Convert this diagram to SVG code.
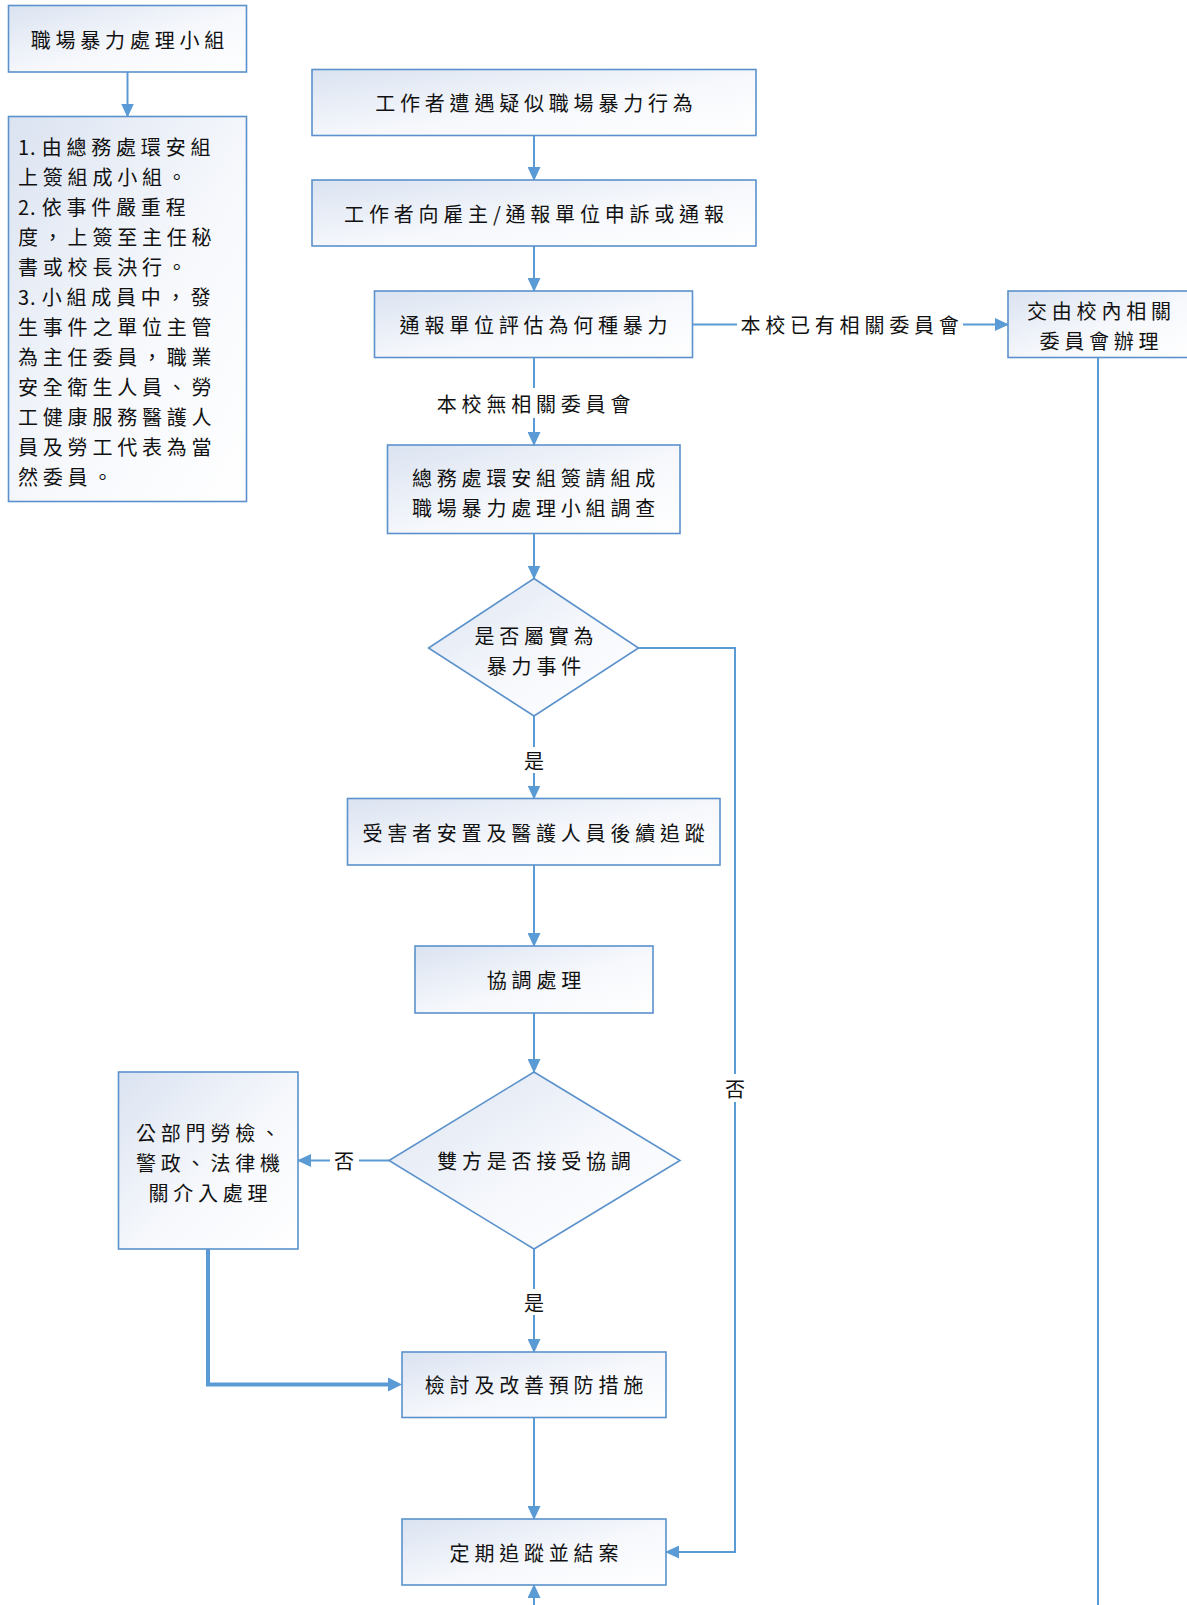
<svg xmlns="http://www.w3.org/2000/svg" width="1187" height="1605" viewBox="0 0 1187 1605">
<defs>
<linearGradient id="g" x1="0" y1="0" x2="1" y2="1">
<stop offset="0" stop-color="#dbe3f1"/>
<stop offset="0.55" stop-color="#f6f8fc"/>
<stop offset="1" stop-color="#ffffff"/>
</linearGradient>
<marker id="ah" viewBox="0 0 14 13" refX="13" refY="6.5" markerWidth="14" markerHeight="13" markerUnits="userSpaceOnUse" orient="auto">
<path d="M0,0 L14,6.5 L0,13 Z" fill="#5b9bd5"/>
</marker>
</defs>
<style>
.box{fill:url(#g);stroke:#5b92cc;stroke-width:1.6}
.t{font-family:"Noto Sans CJK TC","Noto Sans CJK SC",sans-serif;font-size:20px;letter-spacing:4.8px;fill:#111;dominant-baseline:central}
.m{text-anchor:middle}
.c{fill:none;stroke:#5b9bd5;stroke-width:2}
.thick{fill:none;stroke:#5b9bd5;stroke-width:4}
.lb{fill:#fff}
</style>
<g id="connectors">
<path class="c" d="M127.5,72 V116.5" marker-end="url(#ah)"/>
<path class="c" d="M534,135.5 V180" marker-end="url(#ah)"/>
<path class="c" d="M534,246 V291" marker-end="url(#ah)"/>
<path class="c" d="M534,357.5 V445" marker-end="url(#ah)"/>
<path class="c" d="M692.5,324.5 H1008" marker-end="url(#ah)"/>
<path class="c" d="M534,533.5 V578.5" marker-end="url(#ah)"/>
<path class="c" d="M534,716 V798.5" marker-end="url(#ah)"/>
<path class="c" d="M534,865 V946" marker-end="url(#ah)"/>
<path class="c" d="M534,1013 V1072" marker-end="url(#ah)"/>
<path class="c" d="M534,1249 V1352" marker-end="url(#ah)"/>
<path class="c" d="M389,1160.5 H298" marker-end="url(#ah)"/>
<path class="thick" d="M208,1249 V1384.5 H390"/>
<path d="M388,1377.5 L402,1384.5 L388,1391.5 Z" fill="#5b9bd5"/>
<path class="c" d="M534,1417.5 V1519" marker-end="url(#ah)"/>
<path class="c" d="M638.5,648 H735 V1552 H666" marker-end="url(#ah)"/>
<path class="c" d="M1098,358 V1605"/>
<path class="c" d="M534,1605 V1585" marker-end="url(#ah)"/>
<rect class="lb" x="737" y="310" width="226" height="29"/>
<text class="t m" x="852" y="324.5">本校已有相關委員會</text>
<rect class="lb" x="424" y="388" width="220" height="30"/>
<text class="t m" x="536" y="403">本校無相關委員會</text>
<rect class="lb" x="519" y="747" width="30" height="26"/>
<text class="t m" x="536.4" y="760">是</text>
<rect class="lb" x="519" y="1289" width="30" height="26"/>
<text class="t m" x="536.4" y="1302">是</text>
<rect class="lb" x="330" y="1148" width="29" height="26"/>
<text class="t m" x="346.4" y="1160.5">否</text>
<rect class="lb" x="722" y="1074" width="26" height="28"/>
<text class="t m" x="737.4" y="1088">否</text>
</g>
<g id="n-team">
<rect class="box" x="8.5" y="5.5" width="238" height="66.5"/>
<text class="t m" x="129.9" y="39">職場暴力處理小組</text>
</g>
<g id="n-team-desc">
<rect class="box" x="8.5" y="116.5" width="238" height="385"/>
<text class="t" x="18">
<tspan x="18" y="145.5" letter-spacing="1">1.</tspan><tspan dx="5" letter-spacing="4.8">由總務處環安組</tspan>
<tspan x="18" y="175.5">上簽組成小組。</tspan>
<tspan x="18" y="205.5" letter-spacing="1">2.</tspan><tspan dx="5" letter-spacing="4.8">依事件嚴重程</tspan>
<tspan x="18" y="235.5">度，上簽至主任秘</tspan>
<tspan x="18" y="265.5">書或校長決行。</tspan>
<tspan x="18" y="295.5" letter-spacing="1">3.</tspan><tspan dx="5" letter-spacing="4.8">小組成員中，發</tspan>
<tspan x="18" y="325.5">生事件之單位主管</tspan>
<tspan x="18" y="355.5">為主任委員，職業</tspan>
<tspan x="18" y="385.5">安全衛生人員、勞</tspan>
<tspan x="18" y="415.5">工健康服務醫護人</tspan>
<tspan x="18" y="445.5">員及勞工代表為當</tspan>
<tspan x="18" y="475.5">然委員。</tspan>
</text>
</g>
<g id="n1">
<rect class="box" x="312" y="69.5" width="444" height="66"/>
<text class="t m" x="536.4" y="102.5">工作者遭遇疑似職場暴力行為</text>
</g>
<g id="n2">
<rect class="box" x="312" y="180" width="444" height="66"/>
<text class="t m" x="536.4" y="213">工作者向雇主/通報單位申訴或通報</text>
</g>
<g id="n3">
<rect class="box" x="374.5" y="291" width="318" height="66.5"/>
<text class="t m" x="536" y="324.5">通報單位評估為何種暴力</text>
</g>
<g id="n4">
<rect class="box" x="1008" y="291" width="182" height="66.5"/>
<text class="t m" x="1101.4" y="310">交由校內相關</text>
<text class="t m" x="1101.4" y="340">委員會辦理</text>
</g>
<g id="n5">
<rect class="box" x="387.5" y="445" width="292.5" height="88.5"/>
<text class="t m" x="536" y="477">總務處環安組簽請組成</text>
<text class="t m" x="536" y="507">職場暴力處理小組調查</text>
</g>
<g id="d1">
<path class="box" d="M534,578.5 L638.5,648 L534,716 L428.5,648 Z"/>
<text class="t m" x="536.4" y="635">是否屬實為</text>
<text class="t m" x="536.4" y="665">暴力事件</text>
</g>
<g id="n6">
<rect class="box" x="347.5" y="798.5" width="372.5" height="66.5"/>
<text class="t m" x="536" y="832">受害者安置及醫護人員後續追蹤</text>
</g>
<g id="n7">
<rect class="box" x="415" y="946" width="238" height="67"/>
<text class="t m" x="536.4" y="979.5">協調處理</text>
</g>
<g id="d2">
<path class="box" d="M534,1072 L680,1160.5 L534,1249 L389,1160.5 Z"/>
<text class="t m" x="536.4" y="1160.5">雙方是否接受協調</text>
</g>
<g id="n8">
<rect class="box" x="118.5" y="1072" width="179.5" height="177"/>
<text class="t m" x="210.4" y="1132">公部門勞檢、</text>
<text class="t m" x="210.4" y="1162">警政、法律機</text>
<text class="t m" x="210.4" y="1192">關介入處理</text>
</g>
<g id="n9">
<rect class="box" x="402" y="1352" width="264" height="65.5"/>
<text class="t m" x="536.4" y="1384.5">檢討及改善預防措施</text>
</g>
<g id="n10">
<rect class="box" x="402" y="1519" width="264" height="66"/>
<text class="t m" x="536.4" y="1552">定期追蹤並結案</text>
</g>
</svg>
